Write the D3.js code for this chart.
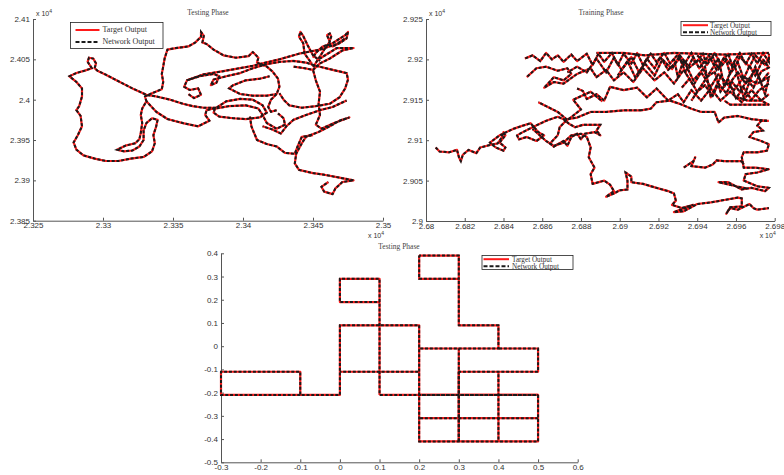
<!DOCTYPE html>
<html>
<head>
<meta charset="utf-8">
<script src="https://cdn.jsdelivr.net/npm/d3@7"></script>
<style>
  body { margin: 0; background: #fff; }
  .axis path, .axis line { stroke: #555; stroke-width: 1; }
  .axis text { font-family: "Liberation Sans", Arial, sans-serif; font-size: 8px; fill: #333; }
  .serif { font-family: "Liberation Serif", "DejaVu Serif", serif; }
</style>
</head>
<body>
<svg id="chart" width="784" height="475"></svg>
<script>
// legend entries
let legendLabels = ["Target Output", "Network Output"];

// tick values (raw units, axis shows x 10^4)
let testXTicks = [23250, 23300, 23350, 23400, 23450, 23500];
let testYTicks = [23850, 23900, 23950, 24000, 24050, 24100];
let trainXTicks = [26800, 26820, 26840, 26860, 26880, 26900, 26920, 26940, 26960, 26980];
let trainYTicks = [29000, 29050, 29100, 29150, 29200, 29250];
let gridXTicks = [-0.3, -0.2, -0.1, 0, 0.1, 0.2, 0.3, 0.4, 0.5, 0.6];
let gridYTicks = [-0.5, -0.4, -0.3, -0.2, -0.1, 0, 0.1, 0.2, 0.3, 0.4];

// testing phase trajectory (top left)
let testTrack = [
  [[23357,23995],[23348,24000],[23338,24004],[23331,24006],[23321,24014],[23312,24022],[23302,24031],[23296,24036],[23294,24039],[23295,24045],[23293,24051],[23290,24052],[23289,24047],[23292,24039],[23287,24036],[23281,24033],[23276,24029],[23281,24022],[23285,24014],[23285,24004],[23283,23992],[23281,23987],[23284,23980],[23285,23967],[23282,23956],[23279,23947],[23281,23938],[23286,23931],[23294,23927],[23302,23924],[23311,23924],[23320,23927],[23329,23929],[23335,23936],[23337,23946],[23336,23956],[23338,23967],[23339,23975],[23335,23977],[23331,23971],[23329,23962],[23329,23950],[23326,23942],[23321,23937],[23315,23936],[23310,23938],[23316,23943],[23323,23946],[23326,23951],[23327,23959],[23328,23971],[23327,23981],[23328,23989],[23331,23998],[23330,24004],[23335,24008],[23342,24013],[23343,24022],[23342,24032],[23343,24041],[23344,24051],[23346,24062],[23352,24064],[23361,24066],[23366,24071],[23370,24078],[23370,24084],[23372,24079],[23371,24071],[23374,24069],[23379,24062],[23386,24055],[23395,24052],[23404,24054],[23407,24059],[23411,24052],[23410,24046],[23417,24041],[23421,24035],[23425,24026],[23426,24016],[23424,24007],[23420,24000],[23418,23991],[23420,23985],[23424,23987]],
  [[23331,23998],[23338,23985],[23346,23976],[23357,23971],[23368,23967],[23376,23974],[23373,23981],[23374,23987],[23381,23990],[23388,23998],[23398,24001],[23407,24000],[23414,23993],[23417,23984],[23412,23978],[23402,23976],[23393,23977],[23383,23979],[23379,23984],[23380,23989],[23390,23992],[23402,23993],[23411,23989],[23414,23981],[23417,23971],[23424,23964],[23430,23969],[23429,23977],[23425,23983]],
  [[23357,23995],[23364,23992],[23372,23990],[23381,23990]],
  [[23361,24007],[23365,24002],[23370,24006],[23368,24014],[23362,24012],[23358,24016],[23360,24024],[23369,24029],[23379,24032],[23383,24029],[23381,24021],[23377,24018],[23379,24025],[23388,24029],[23398,24033],[23407,24039],[23417,24044],[23427,24047],[23436,24048],[23445,24046],[23452,24042],[23464,24037],[23474,24033],[23475,24025],[23473,24014],[23469,24003],[23462,23995],[23452,23992],[23442,23990],[23433,23993],[23429,24000],[23426,24008]],
  [[23424,24007],[23417,24005],[23407,24005],[23398,24007],[23390,24014],[23393,24018],[23402,24024],[23412,24026],[23419,24029]],
  [[23449,24045],[23444,24057],[23443,24070],[23440,24078],[23441,24084],[23443,24079],[23446,24068],[23450,24055],[23455,24048]],
  [[23450,24040],[23454,24051],[23458,24062],[23462,24072],[23460,24080],[23462,24082],[23463,24078],[23461,24068],[23464,24066],[23469,24070],[23474,24076],[23475,24084],[23473,24080],[23464,24070],[23457,24066],[23452,24058],[23450,24052]],
  [[23455,24051],[23467,24064],[23479,24064],[23471,24061],[23462,24051],[23455,24045],[23450,24037],[23444,24039],[23436,24041]],
  [[23360,24024],[23371,24031],[23388,24036],[23407,24042],[23426,24050],[23440,24057],[23455,24062],[23467,24069],[23473,24076]],
  [[23450,24037],[23452,24024],[23455,24010],[23454,23995],[23455,23981],[23452,23969],[23456,23964],[23465,23971],[23476,23978],[23469,23974],[23462,23967],[23454,23960],[23445,23954],[23442,23946],[23438,23933],[23437,23921],[23440,23913],[23450,23909],[23458,23907],[23467,23904],[23479,23900],[23471,23898],[23466,23890],[23464,23883],[23458,23886],[23456,23892],[23461,23898]],
  [[23405,23979],[23406,23967],[23410,23950],[23417,23945],[23424,23942],[23430,23934],[23437,23933],[23439,23942],[23442,23954],[23450,23956]],
  [[23414,23967],[23421,23963],[23427,23958],[23431,23967],[23436,23975],[23445,23981],[23455,23987],[23464,23991],[23474,23999]]
];

// training phase trajectory (top right)
let trainTrack = [
  [[26805,29091],[26807,29086],[26812,29085],[26816,29088],[26817,29079],[26818,29074],[26819,29082],[26822,29088],[26826,29084],[26828,29091],[26833,29094],[26837,29096],[26839,29103],[26840,29110],[26841,29106],[26838,29097],[26841,29091],[26840,29087],[26836,29091],[26833,29097],[26838,29106],[26845,29114],[26850,29118],[26854,29121],[26858,29110],[26861,29106],[26857,29099],[26852,29104],[26848,29101],[26847,29106],[26850,29110],[26855,29116],[26862,29124],[26868,29129],[26871,29126],[26874,29120],[26877,29116],[26881,29119],[26885,29119],[26890,29119],[26888,29112],[26890,29106],[26887,29110],[26882,29108],[26880,29101],[26878,29108],[26875,29104],[26873,29093],[26871,29099],[26868,29095],[26866,29092],[26864,29096],[26868,29106],[26869,29116],[26873,29126],[26878,29128],[26885,29135],[26893,29135],[26902,29137],[26911,29137]],
  [[26855,29114],[26862,29099],[26866,29093],[26871,29097],[26875,29106],[26880,29108],[26883,29104],[26885,29091],[26884,29079],[26887,29066],[26885,29058],[26886,29046],[26892,29050],[26895,29045],[26897,29037],[26893,29030],[26897,29034],[26900,29038],[26904,29039],[26904,29050],[26903,29060],[26906,29055],[26906,29048],[26912,29046],[26919,29041],[26925,29037],[26928,29034],[26929,29025],[26927,29020],[26932,29016],[26938,29020],[26928,29011],[26933,29012],[26940,29021],[26947,29023],[26954,29026],[26961,29029],[26963,29028],[26963,29018],[26957,29017],[26955,29009],[26957,29016],[26961,29014],[26967,29021],[26969,29016],[26971,29014],[26977,29016]],
  [[26977,29124],[26973,29124],[26971,29118],[26974,29112],[26969,29110],[26967,29104],[26973,29099],[26977,29095],[26976,29087],[26971,29085],[26964,29085],[26963,29079],[26964,29066],[26970,29066],[26977,29064],[26971,29060],[26965,29058],[26964,29050],[26971,29043],[26977,29041],[26975,29037],[26968,29041],[26963,29039],[26956,29048],[26951,29048],[26960,29043],[26966,29040]],
  [[26933,29066],[26938,29074],[26939,29079],[26937,29068],[26944,29066],[26948,29070],[26950,29075],[26954,29074],[26963,29074],[26964,29070]],
  [[26911,29137],[26916,29139],[26919,29147],[26926,29149],[26931,29145],[26937,29139],[26942,29135],[26949,29135],[26951,29122],[26954,29128],[26961,29130],[26968,29126],[26976,29124]],
  [[26858,29147],[26868,29135],[26873,29125],[26880,29138],[26876,29150],[26885,29160],[26891,29148]],
  [[26851,29201],[26855,29205],[26859,29198],[26862,29208],[26865,29200],[26868,29205],[26871,29197],[26875,29206],[26878,29198],[26883,29207],[26886,29193],[26889,29207],[26892,29197],[26896,29208],[26899,29193],[26902,29207],[26906,29195],[26909,29208],[26912,29193],[26916,29207],[26919,29197],[26923,29208],[26926,29195],[26930,29206],[26933,29193],[26937,29208],[26939,29195],[26943,29207],[26945,29193],[26949,29208],[26952,29195],[26956,29207],[26958,29193],[26962,29208],[26965,29194],[26968,29207],[26971,29195],[26974,29208],[26977,29197],[26977,29207]],
  [[26977,29201],[26975,29193],[26970,29205],[26967,29191],[26962,29203],[26959,29189],[26954,29203],[26950,29187],[26946,29205],[26941,29189],[26938,29203],[26934,29184],[26931,29201],[26925,29187],[26921,29203],[26918,29189],[26914,29201],[26910,29184],[26906,29203],[26901,29187],[26897,29202],[26893,29184],[26888,29201],[26883,29184],[26878,29191],[26873,29184]],
  [[26888,29208],[26902,29208],[26913,29205],[26928,29208],[26954,29206],[26977,29208]],
  [[26852,29178],[26857,29189],[26862,29191],[26868,29186],[26873,29189],[26875,29182],[26871,29174],[26866,29178],[26861,29165],[26866,29172],[26871,29170],[26878,29182],[26885,29189],[26888,29178],[26893,29187],[26897,29174],[26902,29184],[26907,29172],[26912,29189],[26918,29174],[26923,29184],[26928,29170],[26933,29187],[26938,29168],[26942,29184],[26947,29166],[26951,29182],[26956,29168],[26961,29184],[26965,29170],[26970,29187],[26973,29172],[26977,29184]],
  [[26878,29164],[26881,29161],[26883,29151],[26888,29157],[26892,29149],[26895,29166],[26902,29162],[26909,29165],[26914,29153],[26919,29164],[26925,29149],[26930,29157],[26933,29147],[26937,29162],[26942,29149],[26947,29164],[26952,29149],[26957,29160],[26963,29147],[26968,29162],[26973,29149],[26977,29157]],
  [[26937,29149],[26944,29174],[26951,29201],[26954,29166],[26959,29195],[26964,29153],[26970,29191],[26975,29157],[26977,29178],[26971,29170],[26964,29178],[26959,29162],[26952,29178],[26947,29153],[26944,29191],[26938,29174],[26933,29199],[26930,29178],[26928,29201]],
  [[26954,29149],[26957,29144],[26964,29144],[26971,29144],[26977,29144],[26973,29149],[26966,29149],[26961,29153]],
  [[26940,29205],[26944,29196],[26948,29203],[26951,29188],[26955,29199],[26957,29182],[26961,29196],[26964,29176],[26967,29192],[26970,29180],[26974,29200],[26977,29190],[26973,29185],[26969,29165],[26966,29175],[26962,29160],[26958,29172],[26955,29158],[26951,29170],[26948,29155],[26944,29168],[26940,29160],[26936,29176],[26932,29165]],
  [[26977,29170],[26972,29162],[26968,29150],[26964,29165],[26960,29152],[26956,29175],[26952,29160],[26949,29185],[26945,29178],[26941,29200],[26936,29190],[26931,29205],[26927,29188],[26922,29200],[26918,29180],[26913,29195],[26908,29178],[26904,29198],[26899,29180]]
];

// testing phase on the unit grid (bottom)
let gridTrack = [
  [[-0.1,-0.21],[-0.3,-0.21],[-0.3,-0.11],[-0.1,-0.11],[-0.1,-0.21],[0,-0.21],[0,0.09],[0.2,0.09],[0.2,-0.41],[0.5,-0.41],[0.5,-0.21],[0.2,-0.21]],
  [[0,-0.11],[0.2,-0.11]],
  [[0.1,-0.21],[0.1,0.29],[0,0.29],[0,0.19],[0.1,0.19]],
  [[0.1,-0.21],[0.2,-0.21]],
  [[0.2,0.39],[0.3,0.39],[0.3,0.29],[0.2,0.29],[0.2,0.39]],
  [[0.3,0.29],[0.3,0.09],[0.4,0.09],[0.4,-0.01],[0.2,-0.01]],
  [[0.4,-0.01],[0.5,-0.01],[0.5,-0.11],[0.3,-0.11]],
  [[0.3,-0.01],[0.3,-0.41]],
  [[0.4,-0.11],[0.4,-0.41]],
  [[0.2,-0.31],[0.5,-0.31]],
  [[0.3,-0.11],[0.3,-0.41]],
  [[0.2,-0.21],[0.5,-0.21]]
];

let chart = d3.select("#chart");

function fmt_e4(d) { return String(+(d / 1e4).toFixed(4)); }
function fmt_plain(d) { return String(+d.toFixed(2)); }

function draw_panel(cfg) {
    let g = chart.append("g");

    let x = d3.scaleLinear().domain(cfg.xDomain).range(cfg.xRange);
    let y = d3.scaleLinear().domain(cfg.yDomain).range(cfg.yRange);

    // axes, ticks point inwards like matlab
    g.append("g")
        .attr("class", "axis")
        .attr("transform", "translate(0," + cfg.yRange[0] + ")")
        .call(d3.axisBottom(x).tickValues(cfg.xTicks).tickFormat(cfg.fmt)
            .tickSizeInner(-3).tickSizeOuter(0).tickPadding(2));
    g.append("g")
        .attr("class", "axis")
        .attr("transform", "translate(" + cfg.xRange[0] + ",0)")
        .call(d3.axisLeft(y).tickValues(cfg.yTicks).tickFormat(cfg.fmt)
            .tickSizeInner(-3).tickSizeOuter(0).tickPadding(3));

    let line = d3.line()
        .x(function(d) { return x(d[0]); })
        .y(function(d) { return y(d[1]); });

    // target output (red) then network output (black dashed) on top
    g.selectAll("path.target")
        .data(cfg.tracks)
        .enter()
        .append("path")
        .attr("class", "target")
        .attr("fill", "none")
        .attr("stroke", "#ff1a1a")
        .attr("stroke-width", 2.2)
        .attr("stroke-linejoin", "round")
        .attr("d", line);
    g.selectAll("path.network")
        .data(cfg.tracks)
        .enter()
        .append("path")
        .attr("class", "network")
        .attr("fill", "none")
        .attr("stroke", "#1a1a1a")
        .attr("stroke-width", 2)
        .attr("stroke-dasharray", "3,1.8")
        .attr("stroke-dashoffset", function(d, i) { return i * 1.5; })
        .attr("d", line);

    // title
    chart.append("text")
        .attr("class", "serif")
        .attr("x", cfg.titleX)
        .attr("y", cfg.titleY)
        .attr("text-anchor", "middle")
        .style("font-size", "7.5px")
        .style("fill", "#444")
        .text(cfg.title);

    // exponent labels
    if (cfg.exponent) {
        let ex = [[cfg.xRange[0] + 3, cfg.yRange[1] - 3, "start"], [cfg.xRange[1] + 1, cfg.yRange[0] + 17, "end"]];
        ex.forEach(function(p) {
            let t = chart.append("text")
                .attr("x", p[0])
                .attr("y", p[1])
                .attr("text-anchor", p[2])
                .style("font-family", "Liberation Sans, Arial, sans-serif")
                .style("font-size", "7px")
                .style("fill", "#333");
            t.append("tspan").text("x 10");
            t.append("tspan").attr("dy", -3).style("font-size", "5px").text("4");
        });
    }

    // legend box
    let lg = cfg.legend;
    let leg = chart.append("g").attr("transform", "translate(" + lg.x + "," + lg.y + ")");
    leg.append("rect")
        .attr("width", lg.w)
        .attr("height", lg.h)
        .attr("fill", "#fff")
        .attr("stroke", "#222")
        .attr("stroke-width", 0.8);
    legendLabels.forEach(function(lab, i) {
        let ly = lg.row0 + i * lg.gap;
        leg.append("line")
            .attr("x1", lg.lx0).attr("x2", lg.lx1)
            .attr("y1", ly).attr("y2", ly)
            .attr("stroke", i == 0 ? "#ff1a1a" : "#1a1a1a")
            .attr("stroke-width", 2)
            .attr("stroke-dasharray", i == 0 ? null : "4,2");
        leg.append("text")
            .attr("class", "serif")
            .attr("x", lg.tx)
            .attr("y", ly + 2.3)
            .style("font-size", lg.fs)
            .style("fill", "#333")
            .text(lab);
    });
}

// top left: testing phase
draw_panel({
    xDomain: [23250, 23500], yDomain: [23850, 24100],
    xRange: [33, 383], yRange: [220.7, 19],
    xTicks: testXTicks, yTicks: testYTicks, fmt: fmt_e4,
    tracks: testTrack, title: "Testing Phase", titleX: 208, titleY: 15,
    exponent: true,
    legend: {x: 70.5, y: 22.5, w: 92.5, h: 26, row0: 7.5, gap: 12, lx0: 5, lx1: 29, tx: 32, fs: "8px"}
});

// top right: training phase
draw_panel({
    xDomain: [26800, 26980], yDomain: [29000, 29250],
    xRange: [426, 774.7], yRange: [221, 19],
    xTicks: trainXTicks, yTicks: trainYTicks, fmt: fmt_e4,
    tracks: trainTrack, title: "Training Phase", titleX: 601, titleY: 15,
    exponent: true,
    legend: {x: 681, y: 21.5, w: 90, h: 14, row0: 3.7, gap: 7, lx0: 2, lx1: 27, tx: 29, fs: "7.2px"}
});

// bottom: testing phase on grid
draw_panel({
    xDomain: [-0.3, 0.6], yDomain: [-0.5, 0.4],
    xRange: [221, 577.7], yRange: [462.3, 253.3],
    xTicks: gridXTicks, yTicks: gridYTicks, fmt: fmt_plain,
    tracks: gridTrack, title: "Testing Phase", titleX: 399, titleY: 248.5,
    exponent: false,
    legend: {x: 482, y: 255.5, w: 91, h: 14, row0: 3.7, gap: 7, lx0: 1.5, lx1: 27, tx: 30, fs: "7.2px"}
});
</script>
</body>
</html>
